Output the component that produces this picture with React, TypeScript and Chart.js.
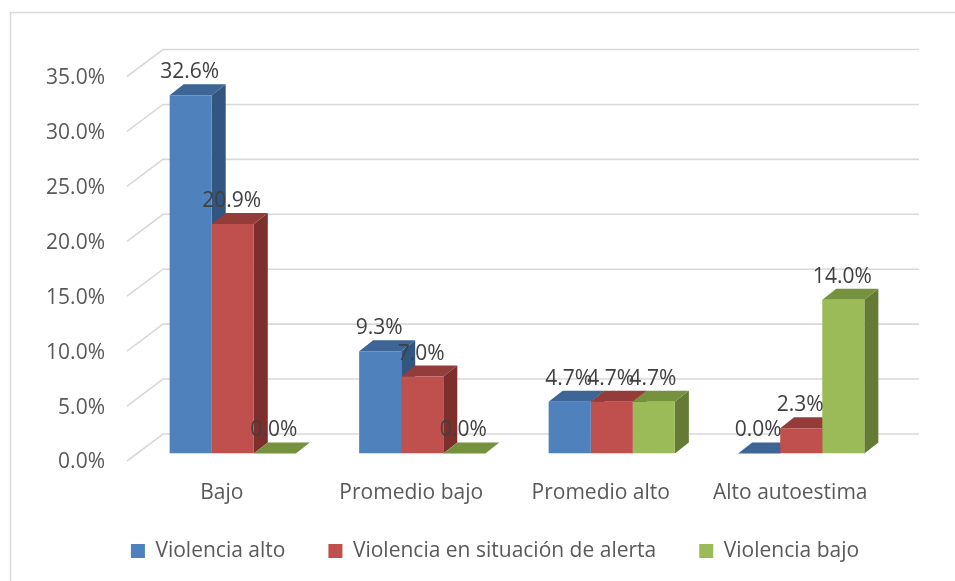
import React, { useEffect, useRef } from "react";
import { Chart, registerables } from "chart.js";

Chart.register(...registerables);

const categories = ["Bajo", "Promedio bajo", "Promedio alto", "Alto autoestima"];
const seriesNames = ["Violencia alto", "Violencia en situación de alerta", "Violencia bajo"];
const violenciaAlto = [32.6, 9.3, 4.7, 0.0];
const violenciaAlerta = [20.9, 7.0, 4.7, 2.3];
const violenciaBajo = [0.0, 0.0, 4.7, 14.0];
const yTicks = [0, 5, 10, 15, 20, 25, 30, 35];

const FRONT = ["#4F81BD", "#C0504D", "#9BBB59"];
const TOP = ["#3D6595", "#943C3A", "#76923E"];
const SIDE = ["#335680", "#7D2F2D", "#657A35"];

const FONT = "'Open Sans', 'Noto Sans', sans-serif";
const BAR_DX = 14;
const BAR_DY = -11;
const FRONT_OFF = { x: -11, y: 7.5 };
const BACK_OFF = { x: 25, y: -19.5 };
const LEGEND_PAD = 43;
const LEGEND_CENTER_Y = 551;

const threeD = {
  id: "threeD",
  afterLayout(chart: any) {
    const lg = chart.legend;
    if (lg) {
      lg.left += 47;
      lg.right += 47;
      const top = LEGEND_CENTER_Y - 10.5 - LEGEND_PAD;
      lg.top = top;
      lg.bottom = top + 80;
    }
  },
  beforeDraw(chart: any) {
    const { ctx, width, height } = chart;
    ctx.save();
    ctx.fillStyle = "#FFFFFF";
    ctx.fillRect(0, 0, width, height);
    ctx.strokeStyle = "#D9D9D9";
    ctx.lineWidth = 1.5;
    ctx.strokeRect(10.5, 12.5, width + 40, height + 40);
    const ys = chart.scales.y;
    const area = chart.chartArea;
    ctx.lineWidth = 1.6;
    ctx.strokeStyle = "#D9D9D9";
    yTicks.forEach((v) => {
      const py = ys.getPixelForValue(v);
      ctx.beginPath();
      ctx.moveTo(area.left + FRONT_OFF.x, py + FRONT_OFF.y);
      ctx.lineTo(area.left + BACK_OFF.x, py + BACK_OFF.y);
      ctx.lineTo(area.right + 23, py + BACK_OFF.y);
      ctx.stroke();
    });
    ctx.restore();
  },
  beforeDatasetsDraw(chart: any) {
    const ctx = chart.ctx;
    ctx.save();
    const nDs = chart.data.datasets.length;
    for (let j = 0; j < categories.length; j++) {
      for (let i = 0; i < nDs; i++) {
        const el = chart.getDatasetMeta(i).data[j];
        const { x, y, base, width } = el.getProps(["x", "y", "base", "width"], true);
        const l = x - width / 2;
        const r = x + width / 2;
        ctx.fillStyle = SIDE[i];
        ctx.beginPath();
        ctx.moveTo(r, y);
        ctx.lineTo(r + BAR_DX, y + BAR_DY);
        ctx.lineTo(r + BAR_DX, base + BAR_DY);
        ctx.lineTo(r, base);
        ctx.closePath();
        ctx.fill();
        ctx.fillStyle = TOP[i];
        ctx.beginPath();
        ctx.moveTo(l, y);
        ctx.lineTo(r, y);
        ctx.lineTo(r + BAR_DX, y + BAR_DY);
        ctx.lineTo(l + BAR_DX, y + BAR_DY);
        ctx.closePath();
        ctx.fill();
      }
    }
    ctx.restore();
  },
  afterDatasetsDraw(chart: any) {
    const ctx = chart.ctx;
    ctx.save();
    ctx.font = `21px ${FONT}`;
    ctx.fillStyle = "#404040";
    ctx.textAlign = "center";
    ctx.textBaseline = "middle";
    chart.data.datasets.forEach((ds: any, i: number) => {
      chart.getDatasetMeta(i).data.forEach((el: any, j: number) => {
        const { x, y } = el.getProps(["x", "y"], true);
        ctx.fillText(Number(ds.data[j]).toFixed(1) + "%", x - 1, y - 23);
      });
    });
    ctx.restore();
  },
};

export default function App() {
  const ref = useRef<HTMLCanvasElement | null>(null);
  useEffect(() => {
    document.body.style.margin = "0";
    if (!ref.current) return;
    Chart.defaults.font.family = FONT;
    const chart = new Chart(ref.current, {
      type: "bar",
      data: {
        labels: categories,
        datasets: [
          { label: seriesNames[0], data: violenciaAlto, backgroundColor: FRONT[0], borderWidth: 0 },
          { label: seriesNames[1], data: violenciaAlerta, backgroundColor: FRONT[1], borderWidth: 0 },
          { label: seriesNames[2], data: violenciaBajo, backgroundColor: FRONT[2], borderWidth: 0 },
        ],
      },
      options: {
        responsive: false,
        animation: false,
        datasets: { bar: { categoryPercentage: 0.666, barPercentage: 1.0 } },
        layout: { padding: { left: 0, right: 59, top: 69, bottom: 10.5 } },
        scales: {
          x: {
            grid: { display: false, drawTicks: false },
            border: { display: false },
            ticks: { color: "#595959", font: { family: FONT, size: 21 }, padding: 27, labelOffset: -11 },
            afterFit: (s: any) => {
              s.height = 87;
            },
          },
          y: {
            min: 0,
            max: 35,
            grid: { display: false, drawTicks: false },
            border: { display: false },
            ticks: {
              stepSize: 5,
              color: "#595959",
              font: { family: FONT, size: 21 },
              padding: 33,
              labelOffset: 9,
              callback: (v: any) => Number(v).toFixed(1) + "%",
            },
            afterFit: (s: any) => {
              s.width = 138;
            },
          },
        },
        plugins: {
          legend: {
            position: "bottom",
            maxHeight: 30,
            labels: {
              boxWidth: 14,
              boxHeight: 14,
              padding: LEGEND_PAD,
              color: "#595959",
              font: { family: FONT, size: 21 },
            },
          },
          tooltip: { enabled: false },
        },
      },
      plugins: [threeD],
    } as any);
    return () => chart.destroy();
  }, []);
  return (
    <div style={{ width: 955, height: 581 }}>
      <canvas ref={ref} width={955} height={581} style={{ display: "block" }} />
    </div>
  );
}
